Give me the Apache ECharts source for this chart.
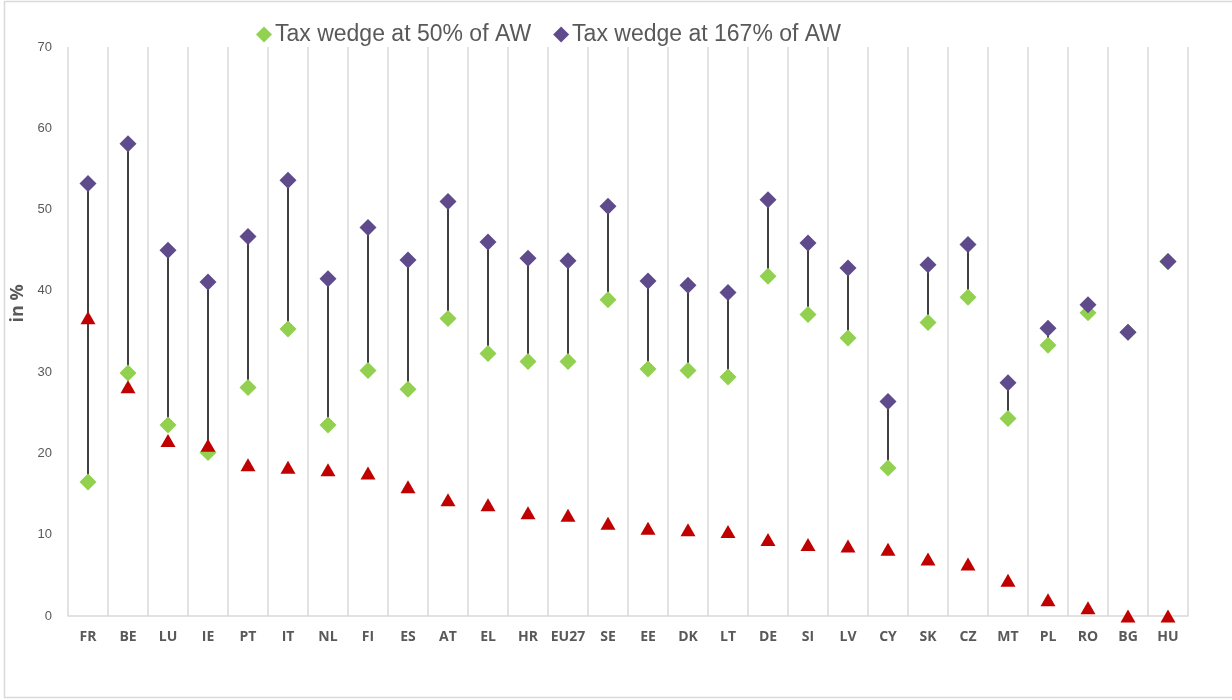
<!DOCTYPE html>
<html>
<head>
<meta charset="utf-8">
<script src="https://cdn.jsdelivr.net/npm/echarts@6/dist/echarts.min.js"></script>
<style>
html,body{margin:0;padding:0;background:#fff;}
#c{width:1232px;height:700px;}
</style>
</head>
<body>
<div id="c"></div>
<script>
const categories = ['FR','BE','LU','IE','PT','IT','NL','FI','ES','AT','EL','HR','EU27','SE','EE','DK','LT','DE','SI','LV','CY','SK','CZ','MT','PL','RO','BG','HU'];
const wedge50 = [16.5,29.9,23.5,20.1,28.1,35.3,23.5,30.2,27.9,36.6,32.3,31.3,31.3,38.9,30.4,30.2,29.4,41.8,37.1,34.2,18.2,36.1,39.2,24.3,33.3,37.3,34.9,43.6];
const wedge167 = [53.2,58.1,45.0,41.1,46.7,53.6,41.5,47.8,43.8,51.0,46.0,44.0,43.7,50.4,41.2,40.7,39.8,51.2,45.9,42.8,26.4,43.2,45.7,28.7,35.4,38.3,34.9,43.6];
const difference = [36.7,28.2,21.6,21.0,18.6,18.3,18.0,17.6,15.9,14.3,13.7,12.7,12.4,11.4,10.8,10.6,10.4,9.4,8.8,8.6,8.2,7.0,6.4,4.4,2.0,1.0,0.0,0.0];
const yTicks = [0,10,20,30,40,50,60,70];

const chart = echarts.init(document.getElementById('c'), null, {renderer:'canvas'});
const pairs = categories.map((c,i)=>[i, wedge50[i], wedge167[i]]);
chart.setOption({
  animation:false,
  backgroundColor:'#fff',
  graphic:[{type:'rect', shape:{x:4.5,y:1.5,width:1240,height:696}, style:{fill:'none', stroke:'#d9d9d9', lineWidth:1.5}, silent:true, z:-10}],
  legend:{
    top:18, left:251, itemGap:22, itemWidth:16, itemHeight:16,
    data:[{name:'Tax wedge at 50% of AW', icon:'diamond'},{name:'Tax wedge at 167% of AW', icon:'diamond'}],
    textStyle:{fontSize:23, color:'#595959', fontFamily:'"Liberation Sans", Arial, sans-serif', padding:[0,0,0,-2]}
  },
  grid:{left:68, right:44, top:47, bottom:84, containLabel:false},
  xAxis:{
    type:'category', data:categories, boundaryGap:true,
    axisLine:{lineStyle:{color:'#d9d9d9', width:1.5}},
    axisTick:{show:false},
    splitLine:{show:true, lineStyle:{color:'#d9d9d9', width:1.5}},
    axisLabel:{interval:0, margin:14, fontSize:14, fontWeight:'bold', color:'#595959', fontFamily:'"Open Sans", sans-serif'}
  },
  yAxis:{
    type:'value', min:yTicks[0], max:yTicks[yTicks.length-1], interval:10,
    axisLine:{show:false}, axisTick:{show:false}, splitLine:{show:false},
    axisLabel:{margin:16, fontSize:13, color:'#595959', fontFamily:'"Liberation Sans", Arial, sans-serif'},
    name:'in %', nameLocation:'middle', nameGap:23, nameRotate:90,
    nameTextStyle:{fontSize:18, fontWeight:'bold', color:'#595959', fontFamily:'"Open Sans", sans-serif', padding:[0,0,0,56]}
  },
  series:[
    {
      type:'custom', name:'range', z:1, silent:true,
      data:pairs,
      encode:{x:0, y:[1,2]},
      renderItem:function(params, api){
        const p1 = api.coord([api.value(0), api.value(1)]);
        const p2 = api.coord([api.value(0), api.value(2)]);
        return {type:'line', shape:{x1:p1[0], y1:p1[1], x2:p2[0], y2:p2[1]}, style:{stroke:'#404040', lineWidth:2}};
      }
    },
    {type:'scatter', name:'Tax wedge at 50% of AW', data:wedge50, symbol:'diamond', symbolSize:[17,17], itemStyle:{color:'#92D050', opacity:1}, z:2},
    {type:'scatter', name:'Tax wedge at 167% of AW', data:wedge167, symbol:'diamond', symbolSize:[17,17], itemStyle:{color:'#5F4B8B', opacity:1}, z:3},
    {type:'scatter', name:'Difference', data:difference, symbol:'triangle', symbolSize:[15,13], itemStyle:{color:'#C00000', opacity:1}, z:4}
  ]
});
</script>
</body>
</html>
